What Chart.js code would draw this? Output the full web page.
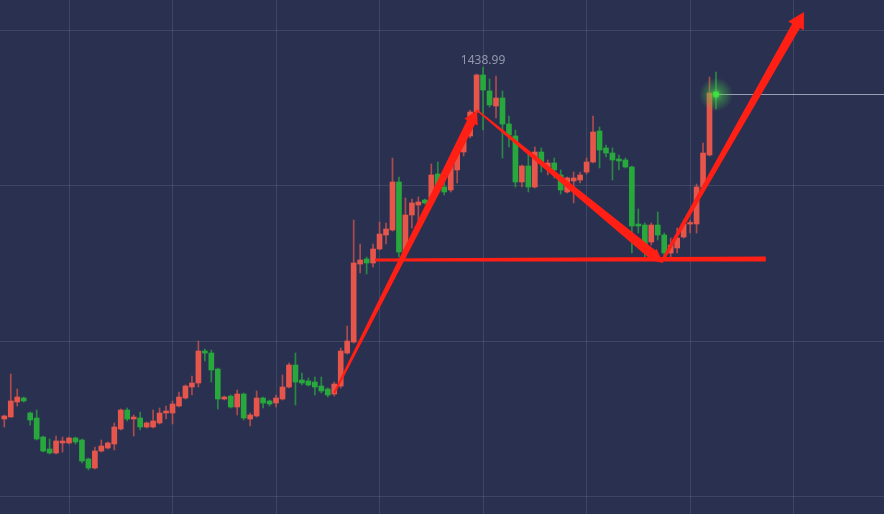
<!DOCTYPE html>
<html>
<head>
<meta charset="utf-8">
<script src="https://cdn.jsdelivr.net/npm/chart.js@4.4.1/dist/chart.umd.min.js"></script>
<style>
  html, body { margin: 0; padding: 0; background: #2a3150; }
  #wrap { width: 884px; height: 514px; }
</style>
</head>
<body>
<div id="wrap"><canvas id="kline" width="884" height="514"></canvas></div>
<script>
// ── Data ────────────────────────────────────────────────────────────────────

const opens = [
  1325.94, 1326.58, 1331.41, 1332.69, 1327.87, 1326.26, 1320.15, 1316.30, 1315.01, 1318.23,
  1318.23, 1319.83, 1319.19, 1313.08, 1310.19, 1315.65, 1316.62, 1317.90, 1322.73, 1328.83,
  1325.94, 1326.26, 1323.37, 1323.37, 1324.66, 1327.87, 1327.87, 1330.12, 1332.69, 1336.23,
  1337.51, 1347.80, 1347.15, 1342.01, 1332.37, 1333.33, 1329.80, 1333.98, 1325.94, 1326.91,
  1332.69, 1331.73, 1331.09, 1332.37, 1336.23, 1343.30, 1338.48, 1338.16, 1337.83, 1336.55,
  1335.58, 1333.98, 1336.55, 1347.15, 1350.69, 1375.77, 1377.38, 1376.10, 1380.60, 1385.10,
  1386.70, 1402.14, 1379.63, 1391.53, 1394.75, 1396.35, 1397.00, 1404.71, 1400.53, 1399.57,
  1406.00, 1411.78, 1416.93, 1424.64, 1436.54, 1431.40, 1426.57, 1429.14, 1420.78, 1416.93,
  1402.14, 1407.28, 1400.53, 1411.78, 1406.96, 1408.25, 1404.39, 1398.93, 1402.46, 1402.78,
  1405.35, 1408.57, 1418.53, 1413.07, 1411.46, 1409.53, 1409.21, 1406.96, 1388.63, 1388.31,
  1382.85, 1388.31, 1385.10, 1379.31, 1380.92, 1384.45, 1388.63, 1388.63, 1400.53, 1410.82,
  1431.07
];

const highs = [
  1327.23, 1340.40, 1335.58, 1333.01, 1328.19, 1328.83, 1320.48, 1319.51, 1320.48, 1320.15,
  1320.15, 1320.15, 1319.51, 1313.40, 1316.94, 1319.19, 1318.55, 1324.66, 1329.16, 1329.48,
  1327.23, 1328.19, 1324.98, 1328.83, 1329.48, 1330.12, 1331.73, 1334.62, 1336.87, 1339.76,
  1351.01, 1348.44, 1348.12, 1342.33, 1333.33, 1333.66, 1335.26, 1334.30, 1327.87, 1334.94,
  1333.01, 1332.05, 1333.66, 1340.08, 1343.94, 1347.15, 1340.73, 1339.12, 1339.44, 1339.44,
  1335.91, 1337.83, 1348.76, 1355.83, 1389.92, 1382.20, 1378.02, 1382.20, 1389.28, 1388.96,
  1409.85, 1403.75, 1397.00, 1396.67, 1397.32, 1396.67, 1407.92, 1408.57, 1403.43, 1408.25,
  1412.43, 1417.25, 1425.28, 1436.86, 1438.99, 1435.25, 1436.22, 1431.40, 1423.36, 1418.85,
  1407.60, 1411.46, 1413.39, 1413.07, 1409.21, 1409.85, 1406.00, 1403.75, 1405.35, 1405.35,
  1409.85, 1423.36, 1419.82, 1414.03, 1413.07, 1410.82, 1409.85, 1407.28, 1393.46, 1388.96,
  1388.96, 1392.49, 1385.74, 1384.13, 1387.35, 1389.92, 1389.92, 1401.50, 1414.68, 1435.89,
  1437.50
];

const lows = [
  1323.37, 1326.58, 1330.12, 1331.41, 1324.01, 1319.19, 1315.33, 1314.69, 1314.69, 1315.33,
  1317.90, 1317.90, 1311.80, 1309.55, 1309.87, 1315.33, 1316.30, 1315.98, 1322.40, 1325.30,
  1320.48, 1322.40, 1323.05, 1323.05, 1324.33, 1325.94, 1324.33, 1329.80, 1332.37, 1333.66,
  1336.23, 1344.58, 1337.83, 1329.16, 1332.05, 1329.48, 1327.23, 1325.62, 1323.69, 1326.58,
  1329.48, 1330.12, 1329.80, 1332.05, 1335.91, 1330.44, 1336.87, 1336.55, 1333.66, 1334.30,
  1333.01, 1333.33, 1335.91, 1346.83, 1350.37, 1372.88, 1372.56, 1374.81, 1380.28, 1382.20,
  1386.38, 1378.02, 1378.02, 1387.35, 1387.67, 1395.07, 1396.35, 1399.57, 1397.96, 1398.93,
  1401.82, 1410.50, 1416.28, 1424.32, 1418.85, 1426.25, 1422.71, 1409.85, 1413.39, 1400.53,
  1400.53, 1398.93, 1400.21, 1405.35, 1404.39, 1403.43, 1398.28, 1398.60, 1395.39, 1401.82,
  1404.71, 1408.25, 1406.64, 1410.17, 1402.78, 1406.00, 1406.64, 1379.31, 1385.74, 1378.02,
  1381.88, 1383.49, 1377.06, 1377.06, 1379.31, 1384.13, 1385.74, 1385.74, 1400.21, 1410.50,
  1425.61
];

const closes = [
  1326.91, 1331.73, 1333.01, 1331.73, 1325.62, 1319.51, 1315.65, 1315.01, 1318.87, 1318.87,
  1319.83, 1318.55, 1312.44, 1310.19, 1315.65, 1317.26, 1318.23, 1323.37, 1328.83, 1325.94,
  1326.58, 1323.37, 1324.66, 1325.30, 1327.87, 1328.51, 1330.76, 1333.01, 1336.55, 1337.51,
  1347.80, 1347.15, 1341.69, 1332.37, 1333.01, 1329.80, 1333.98, 1326.26, 1327.23, 1332.69,
  1331.09, 1330.76, 1332.69, 1336.23, 1343.30, 1337.83, 1337.51, 1336.87, 1336.23, 1334.94,
  1333.66, 1337.19, 1347.80, 1351.01, 1376.10, 1377.06, 1376.10, 1380.60, 1385.42, 1387.03,
  1402.14, 1379.63, 1391.53, 1395.39, 1395.71, 1395.39, 1404.39, 1400.53, 1398.93, 1407.60,
  1411.46, 1416.28, 1424.64, 1436.54, 1431.72, 1426.90, 1429.14, 1420.78, 1417.25, 1402.14,
  1407.28, 1400.53, 1411.78, 1408.57, 1408.25, 1406.00, 1399.57, 1403.43, 1403.43, 1404.39,
  1408.57, 1418.21, 1412.43, 1411.46, 1409.21, 1408.89, 1406.96, 1387.99, 1387.99, 1379.63,
  1388.31, 1385.10, 1379.31, 1381.88, 1384.13, 1388.63, 1388.96, 1400.53, 1411.46, 1430.75,
  1430.43
];

// grid positions (candle index / price)
const xGrid = [10, 26, 42, 58, 74, 90, 106, 122];
const yGrid = [1301, 1351, 1401, 1451];

// hand-drawn pattern marks, [candle index, price]
const riseStart  = [51.0, 1334.3],  riseEnd  = [73.05, 1425.1];
const fallStart  = [73.0, 1425.3],  fallEnd  = [101.8, 1376.1];
const neckStart  = [57.3, 1377.1],  neckEnd  = [117.7, 1377.4];
const breakStart = [101.6, 1376.4], breakEnd = [123.6, 1456.8];

// ── Styling ─────────────────────────────────────────────────────────────────

const UP_BODY   = '#e6564b';
const DOWN_BODY = '#28a83d';
const UP_WICK   = 'rgba(230,86,75,.7)';
const DOWN_WICK = 'rgba(40,168,61,.75)';
const MARK      = '#ff1f14';

const isUp   = closes.map((c, i) => c >= opens[i]);
const bodies = opens.map((o, i) => ({ x: i, y: [o, closes[i]] }));
const wicks  = lows.map((l, i) => ({ x: i, y: [l, highs[i]] }));

// ── Overlay: arrows, peak label, last price ─────────────────────────────────

function taperArrow(ctx, x, y, a, b, w0, w1, headLen, headW) {
  const x0 = x.getPixelForValue(a[0]), y0 = y.getPixelForValue(a[1]);
  const x1 = x.getPixelForValue(b[0]), y1 = y.getPixelForValue(b[1]);
  const len = Math.hypot(x1 - x0, y1 - y0);
  const ux = (x1 - x0) / len, uy = (y1 - y0) / len;
  const nx = -uy, ny = ux;
  const sx = x1 - ux * headLen, sy = y1 - uy * headLen;

  ctx.beginPath();
  ctx.moveTo(x0 + nx * w0 / 2, y0 + ny * w0 / 2);
  ctx.lineTo(sx + nx * w1 / 2, sy + ny * w1 / 2);
  if (headLen > 0) {
    ctx.lineTo(sx + nx * headW / 2, sy + ny * headW / 2);
    ctx.lineTo(x1, y1);
    ctx.lineTo(sx - nx * headW / 2, sy - ny * headW / 2);
  }
  ctx.lineTo(sx - nx * w1 / 2, sy - ny * w1 / 2);
  ctx.lineTo(x0 - nx * w0 / 2, y0 - ny * w0 / 2);
  ctx.closePath();
  ctx.fill();
}

const overlay = {
  id: 'overlay',
  afterDatasetsDraw(chart) {
    const { ctx, scales: { x, y } } = chart;
    ctx.save();

    // last price line + glowing dot
    const last = closes.length - 1;
    const lx = x.getPixelForValue(last);
    const ly = Math.round(y.getPixelForValue(closes[last])) + 0.5;
    ctx.strokeStyle = 'rgba(190,196,210,.75)';
    ctx.lineWidth = 1;
    ctx.beginPath();
    ctx.moveTo(lx, ly);
    ctx.lineTo(chart.width, ly);
    ctx.stroke();

    const glow = ctx.createRadialGradient(lx, ly, 0, lx, ly, 17);
    glow.addColorStop(0, 'rgba(80,230,80,.8)');
    glow.addColorStop(0.4, 'rgba(70,210,70,.4)');
    glow.addColorStop(1, 'rgba(70,210,70,0)');
    ctx.fillStyle = glow;
    ctx.beginPath();
    ctx.arc(lx, ly, 17, 0, Math.PI * 2);
    ctx.fill();
    ctx.fillStyle = '#3ee23e';
    ctx.beginPath();
    ctx.arc(lx, ly, 3, 0, Math.PI * 2);
    ctx.fill();

    // peak label
    let peak = 0;
    highs.forEach((h, i) => { if (h > highs[peak]) peak = i; });
    ctx.fillStyle = '#9298aa';
    ctx.font = '12px "Noto Sans", "DejaVu Sans", sans-serif';
    ctx.textAlign = 'center';
    ctx.textBaseline = 'alphabetic';
    ctx.fillText(highs[peak].toFixed(2), x.getPixelForValue(peak), y.getPixelForValue(highs[peak]) - 3);

    // pattern marks
    ctx.fillStyle = MARK;
    taperArrow(ctx, x, y, neckStart, neckEnd, 3, 5, 0, 0);
    taperArrow(ctx, x, y, riseStart, riseEnd, 2, 9, 13, 15);
    taperArrow(ctx, x, y, fallStart, fallEnd, 1.5, 10, 14, 14);
    taperArrow(ctx, x, y, breakStart, breakEnd, 3, 9, 16, 18);

    ctx.restore();
  },
};

// ── Chart ───────────────────────────────────────────────────────────────────

const gridStyle = { color: 'rgba(255,255,255,.1)', lineWidth: 1, drawTicks: false, offset: false };

new Chart(document.getElementById('kline'), {
  type: 'bar',
  data: {
    datasets: [
      {
        label: 'wick',
        data: wicks,
        backgroundColor: isUp.map((u) => (u ? UP_WICK : DOWN_WICK)),
        barThickness: 1,
        grouped: false,
      },
      {
        label: 'body',
        data: bodies,
        backgroundColor: isUp.map((u) => (u ? UP_BODY : DOWN_BODY)),
        barThickness: 5,
        minBarLength: 1.5,
        grouped: false,
      },
    ],
  },
  plugins: [overlay],
  options: {
    responsive: false,
    animation: false,
    layout: { padding: 0 },
    plugins: {
      legend:  { display: false },
      tooltip: { enabled: false },
    },
    scales: {
      x: {
        type: 'linear',
        min: -0.665,
        max: 135.97,
        offset: false,
        grid: gridStyle,
        border: { display: false },
        ticks: { display: false },
        afterBuildTicks: (s) => { s.ticks = xGrid.map((v) => ({ value: v })); },
      },
      y: {
        min: 1295.4,
        max: 1460.65,
        grid: gridStyle,
        border: { display: false },
        ticks: { display: false },
        afterBuildTicks: (s) => { s.ticks = yGrid.map((v) => ({ value: v })); },
      },
    },
  },
});
</script>
</body>
</html>
